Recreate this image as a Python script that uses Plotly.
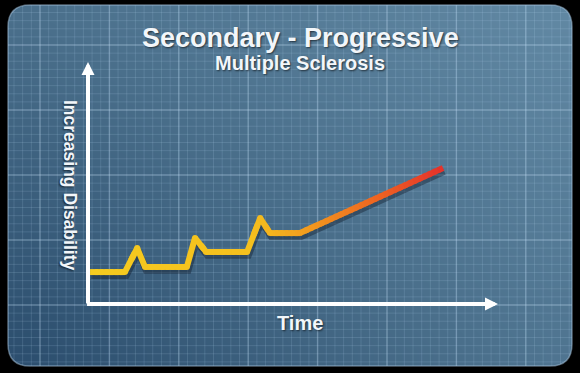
import plotly.graph_objects as go
import numpy as np

# ---- data (arbitrary 0-10 units) ----
time_pts = [0.05, 0.90, 1.20, 1.39, 2.41, 2.61, 2.88, 3.88, 4.20, 4.44, 5.17, 8.66]
disability = [1.32, 1.32, 2.31, 1.53, 1.53, 2.73, 2.15, 2.15, 3.55, 2.93, 2.93, 5.62]

title_text = "Secondary - Progressive"
subtitle_text = "Multiple Sclerosis"
x_label = "Time"
y_label = "Increasing Disability"

W, H = 580, 373
PX0, PX1, PY0, PY1 = 8, 572, 5, 366  # panel bounds (pixels)

fig = go.Figure()

# ---- background gradient panel (pixel-coordinate axes x/y) ----
n = 12
xs = np.linspace(PX0, PX1, n + 1)
ys = np.linspace(PY0, PY1, n + 1)
xc = (xs[:-1] + xs[1:]) / 2
yc = (ys[:-1] + ys[1:]) / 2
z = []
for yy in yc:
    v = (yy - PY0) / (PY1 - PY0)
    row = []
    for xx in xc:
        u = (xx - PX0) / (PX1 - PX0)
        top = 0.55 * (1 - u) + 1.0 * u
        bot = 0.0 * (1 - u) + 0.65 * u
        row.append(top * (1 - v) + bot * v)
    z.append(row)
fig.add_trace(go.Heatmap(x=xs, y=ys, z=z, zsmooth="best", showscale=False,
                         colorscale=[[0, "#2a4c6c"], [0.55, "#4a6f8b"], [1, "#6289a4"]],
                         zmin=0, zmax=1, hoverinfo="skip", xaxis="x", yaxis="y"))

def grid_vals(start, step, lo, hi):
    vals = []
    v = start
    while v - step > lo:
        v -= step
    while v <= hi:
        vals.append(v)
        v += step
    return vals

maj_dx, maj_dy = 69.4, 65.0
major_x = grid_vals(40, maj_dx, PX0, PX1)
major_y = grid_vals(45, maj_dy, PY0, PY1)
minor_x = grid_vals(40, maj_dx / 8, PX0, PX1)
minor_y = grid_vals(45, maj_dy / 8, PY0, PY1)

def lines(vx, vy):
    gx, gy = [], []
    for x in vx:
        gx += [x, x, None]
        gy += [PY0, PY1, None]
    for y in vy:
        gx += [PX0, PX1, None]
        gy += [y, y, None]
    return gx, gy

gx, gy = lines(minor_x, minor_y)
fig.add_trace(go.Scatter(x=gx, y=gy, mode="lines", line=dict(color="rgba(190,220,245,0.15)", width=1),
                         hoverinfo="skip", showlegend=False, xaxis="x", yaxis="y"))
gx, gy = lines(major_x, major_y)
fig.add_trace(go.Scatter(x=gx, y=gy, mode="lines", line=dict(color="rgba(200,228,250,0.26)", width=1.5),
                         hoverinfo="skip", showlegend=False, xaxis="x", yaxis="y"))

# ---- main chart on x2/y2 ----
fig.add_trace(go.Scatter(x=[t + 0.03 for t in time_pts], y=[d - 0.14 for d in disability], mode="lines",
                         line=dict(color="rgba(15,25,40,0.4)", width=7), hoverinfo="skip",
                         showlegend=False, xaxis="x2", yaxis="y2"))

stops_t = [0.0, 4.0, 5.2, 7.0, 8.7]
stops_c = [(246, 204, 32), (245, 192, 30), (243, 160, 30), (238, 102, 34), (228, 48, 44)]

def col_at(t):
    r = np.interp(t, stops_t, [c[0] for c in stops_c])
    g = np.interp(t, stops_t, [c[1] for c in stops_c])
    b = np.interp(t, stops_t, [c[2] for c in stops_c])
    return "rgb(%d,%d,%d)" % (r, g, b)

for i in range(len(time_pts) - 1):
    t0, t1 = time_pts[i], time_pts[i + 1]
    d0, d1 = disability[i], disability[i + 1]
    k = max(1, int(abs(t1 - t0) / 0.12))
    for j in range(k):
        a = j / k
        b = min(1.0, (j + 1.6) / k)  # overlap into next piece to hide seams
        xa, xb = t0 + (t1 - t0) * a, t0 + (t1 - t0) * b
        ya, yb = d0 + (d1 - d0) * a, d0 + (d1 - d0) * b
        fig.add_trace(go.Scatter(x=[xa, xb], y=[ya, yb], mode="lines",
                                 line=dict(color=col_at(t0 + (t1 - t0) * (j + 0.5) / k), width=6),
                                 hoverinfo="skip", showlegend=False, xaxis="x2", yaxis="y2"))
fig.add_trace(go.Scatter(x=time_pts[1:-1], y=disability[1:-1], mode="markers",
                         marker=dict(size=6, color=[col_at(t) for t in time_pts[1:-1]], line=dict(width=0)),
                         hoverinfo="skip", showlegend=False, xaxis="x2", yaxis="y2"))

axis_font = "Arial, 'Liberation Sans', sans-serif"
shadow = "1px 1px 2px rgba(0,0,0,0.6)"

annotations = [
    dict(x=0, y=10, ax=0, ay=-0.04, xref="x2", yref="y2", axref="x2", ayref="y2", showarrow=True,
         arrowhead=2, arrowsize=0.65, arrowwidth=4, arrowcolor="white", text="", standoff=0),
    dict(x=10, y=0, ax=-0.06, ay=0, xref="x2", yref="y2", axref="x2", ayref="y2", showarrow=True,
         arrowhead=2, arrowsize=0.65, arrowwidth=4, arrowcolor="white", text="", standoff=0),
    dict(x=300, y=38, xref="x", yref="y", text="<b>" + title_text + "</b>", showarrow=False,
         font=dict(family=axis_font, size=27, color="#f2f6fa", shadow=shadow), xanchor="center", yanchor="middle"),
    dict(x=300, y=63, xref="x", yref="y", text="<b>" + subtitle_text + "</b>", showarrow=False,
         font=dict(family=axis_font, size=20, color="#f2f6fa", shadow=shadow), xanchor="center", yanchor="middle"),
    dict(x=300, y=323, xref="x", yref="y", text="<b>" + x_label + "</b>", showarrow=False,
         font=dict(family=axis_font, size=20, color="#f2f6fa", shadow=shadow), xanchor="center", yanchor="middle"),
    dict(x=70, y=185, xref="x", yref="y", text="<b>" + y_label + "</b>", showarrow=False, textangle=90,
         font=dict(family=axis_font, size=17.5, color="#f2f6fa", shadow=shadow), xanchor="center", yanchor="middle"),
]

r = 22
shapes = []
corners = [
    (PX0, PY0, PX0 + r, PY0, PX0, PY0 + r, -1, -1),
    (PX1, PY0, PX1 - r, PY0, PX1, PY0 + r, 1, -1),
    (PX0, PY1, PX0 + r, PY1, PX0, PY1 - r, -1, 1),
    (PX1, PY1, PX1 - r, PY1, PX1, PY1 - r, 1, 1),
]
for cx, cy, ax_, ay_, bx, by, sx, sy in corners:
    path = "M %f,%f L %f,%f L %f,%f Q %f,%f %f,%f L %f,%f Z" % (
        cx + sx * 3, cy + sy * 3, ax_, cy + sy * 3, ax_, ay_, cx, cy, bx, by, cx + sx * 3, by)
    shapes.append(dict(type="path", path=path, xref="x", yref="y", fillcolor="black",
                       line=dict(width=0), layer="above"))
outline = ("M %f,%f L %f,%f Q %f,%f %f,%f L %f,%f Q %f,%f %f,%f L %f,%f Q %f,%f %f,%f L %f,%f Q %f,%f %f,%f Z" % (
    PX0 + r, PY0, PX1 - r, PY0, PX1, PY0, PX1, PY0 + r,
    PX1, PY1 - r, PX1, PY1, PX1 - r, PY1,
    PX0 + r, PY1, PX0, PY1, PX0, PY1 - r,
    PX0, PY0 + r, PX0, PY0, PX0 + r, PY0))
shapes.append(dict(type="path", path=outline, xref="x", yref="y", line=dict(color="rgba(170,200,225,0.5)", width=1.5),
                   fillcolor="rgba(0,0,0,0)", layer="above"))

fig.update_layout(
    width=W, height=H, margin=dict(l=0, r=0, t=0, b=0),
    paper_bgcolor="black", plot_bgcolor="rgba(0,0,0,0)", showlegend=False,
    xaxis=dict(domain=[0, 1], range=[0, W], visible=False, fixedrange=True),
    yaxis=dict(domain=[0, 1], range=[H, 0], visible=False, fixedrange=True),
    xaxis2=dict(domain=[88 / W, 498 / W], range=[0, 10], visible=False, anchor="y2"),
    yaxis2=dict(domain=[(H - 304) / H, (H - 62) / H], range=[0, 10], visible=False, anchor="x2"),
    annotations=annotations, shapes=shapes,
)

fig.write_html("out.html")
